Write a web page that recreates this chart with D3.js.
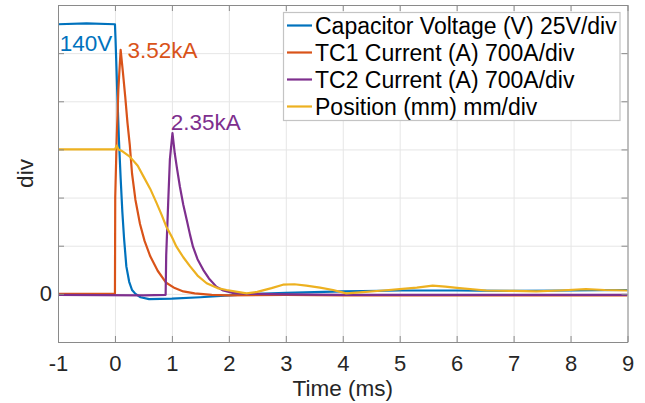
<!DOCTYPE html>
<html><head><meta charset="utf-8">
<script src="https://cdn.jsdelivr.net/npm/d3@7"></script>
<style>
html,body{margin:0;padding:0;background:#fff;}
svg{display:block;font-family:"Liberation Sans",Arial,sans-serif;}
</style></head>
<body><svg id="c" width="645" height="403"></svg>
<script>
// ---- data ----
const xTicks = [-1,0,1,2,3,4,5,6,7,8,9];
const xTickLabels = ["-1","0","1","2","3","4","5","6","7","8","9"];
const yTicks = [-1,0,1,2,3,4,5,6];
const yTickLabels = ["","0","","","","","",""];
const seriesNames = ["Capacitor Voltage (V) 25V/div","TC1 Current (A) 700A/div","TC2 Current (A) 700A/div","Position (mm) mm/div"];
const seriesColors = ["#0072BD","#D95319","#7E2F8E","#EDB120"];

const capT = [-1,-0.5,0,0.01,0.04,0.07,0.1,0.13,0.16,0.2,0.25,0.3,0.36,0.45,0.6,1.0,1.5,2.0,2.5,3.0,4.0,5.0,6.0,7.0,8.0,9.0];
const capV = [5.6,5.62,5.6,5.3,4.2,3.2,2.4,1.7,1.15,0.57,0.25,0.08,0.0,-0.07,-0.11,-0.1,-0.07,-0.03,0.0,0.02,0.05,0.07,0.07,0.06,0.07,0.08];

const tc1T = [-1,0,0.005,0.03,0.06,0.1,0.14,0.18,0.22,0.26,0.3,0.36,0.44,0.52,0.62,0.75,0.9,1.05,1.2,1.4,1.7,2.0,3,4,5,6,7,8,9];
const tc1V = [0,0,2.0,3.2,4.25,5.07,4.6,4.1,3.55,3.1,2.5,1.95,1.45,1.1,0.78,0.48,0.23,0.12,0.05,0.01,-0.02,-0.03,-0.02,-0.03,-0.03,-0.03,-0.03,-0.03,-0.03];

const tc2T = [-1,0.5,0.89,0.9,0.935,0.965,1.01,1.05,1.09,1.14,1.2,1.26,1.32,1.37,1.45,1.55,1.65,1.78,1.9,2.07,2.3,3,4,5,6,7,8,9];
const tc2V = [-0.02,-0.03,-0.02,0.8,1.9,2.8,3.34,2.92,2.6,2.23,1.85,1.54,1.22,0.98,0.72,0.5,0.32,0.15,0.07,0.02,0,-0.01,-0.02,-0.02,-0.02,-0.02,-0.02,-0.02];

const posT = [-1,0,0.03,0.06,0.12,0.26,0.4,0.5,0.62,0.73,0.82,0.9,1.0,1.08,1.2,1.32,1.45,1.61,1.8,1.96,2.15,2.31,2.5,2.75,2.95,3.15,3.36,3.6,3.83,4.06,4.3,4.71,5.0,5.3,5.58,5.8,6.05,6.52,7.0,7.4,7.8,8.27,8.6,9];
const posV = [3.0,3.0,3.08,3.0,2.97,2.85,2.66,2.44,2.18,1.89,1.64,1.4,1.18,0.98,0.76,0.57,0.38,0.22,0.12,0.08,0.04,0.01,0.04,0.12,0.19,0.2,0.17,0.13,0.08,0.01,0.03,0.07,0.1,0.13,0.17,0.15,0.12,0.07,0.06,0.05,0.07,0.1,0.08,0.07];

const annotations = [
  {text:"140V", t:-0.97, v:5.05, color:0},
  {text:"3.52kA", t:0.22, v:4.9, color:1},
  {text:"2.35kA", t:0.98, v:3.4, color:2}
];

// ---- chart ----
const svg = d3.select("#c");
const L=58, R=627.5, T=5, B=342;
const x = d3.scaleLinear().domain([-1,9]).range([L,R]);
const y = d3.scaleLinear().domain([-1,6]).range([B,T]);
const axisColor = "#8a8a8a", gridColor = "#e6e6e6", textColor = "#262626";

// grid
svg.append("g").attr("transform",`translate(0,${B})`)
  .call(d3.axisBottom(x).tickValues(xTicks).tickSize(-(B-T)).tickFormat(""))
  .call(g=>{g.select(".domain").remove(); g.selectAll("line").attr("stroke",gridColor);});
svg.append("g").attr("transform",`translate(${L},0)`)
  .call(d3.axisLeft(y).tickValues(yTicks).tickSize(-(R-L)).tickFormat(""))
  .call(g=>{g.select(".domain").remove(); g.selectAll("line").attr("stroke",gridColor);});

// clip
svg.append("defs").append("clipPath").attr("id","clip")
  .append("rect").attr("x",L).attr("y",T).attr("width",R-L).attr("height",B-T);

const line = d3.line().x(d=>x(d[0])).y(d=>y(d[1]));
const series = [[capT,capV],[tc1T,tc1V],[tc2T,tc2V],[posT,posV]];
const plot = svg.append("g").attr("clip-path","url(#clip)");
series.forEach((s,i)=>{
  const pts = s[0].map((t,j)=>[t,s[1][j]]);
  plot.append("path").attr("d",line(pts)).attr("fill","none")
    .attr("stroke",seriesColors[i]).attr("stroke-width",2.2)
    .attr("stroke-linejoin","round");
});

// axes (inward ticks, box)
const fs = 22;
const styleAxis = g=>{
  g.select(".domain").attr("stroke",axisColor);
  g.selectAll(".tick line").attr("stroke",axisColor);
  g.selectAll("text").attr("fill",textColor).style("font-size",fs+"px")
   .style("font-family","'Liberation Sans',Arial,sans-serif");
};
svg.append("g").attr("transform",`translate(0,${B})`)
  .call(d3.axisBottom(x).tickValues(xTicks).tickSizeInner(-6).tickSizeOuter(0).tickPadding(14).tickFormat((d,i)=>xTickLabels[i]))
  .call(styleAxis)
  .call(g=>g.selectAll("text").attr("dy","0.71em").attr("y",13));
svg.append("g").attr("transform",`translate(0,${T})`)
  .call(d3.axisTop(x).tickValues(xTicks).tickSizeInner(-6).tickSizeOuter(0).tickFormat(""))
  .call(styleAxis);
svg.append("g").attr("transform",`translate(${L},0)`)
  .call(d3.axisLeft(y).tickValues(yTicks).tickSizeInner(-6).tickSizeOuter(0).tickPadding(12).tickFormat((d,i)=>yTickLabels[i]))
  .call(styleAxis)
  .call(g=>g.selectAll("text").attr("x",-6));
svg.append("g").attr("transform",`translate(${R},0)`)
  .call(d3.axisRight(y).tickValues(yTicks).tickSizeInner(-6).tickSizeOuter(0).tickFormat(""))
  .call(styleAxis);

// axis titles
svg.append("text").attr("x",(L+R)/2).attr("y",396).attr("text-anchor","middle")
  .attr("fill",textColor).style("font-size","22.5px").text("Time (ms)");
svg.append("text").attr("transform",`translate(33,${(T+B)/2}) rotate(-90)`)
  .attr("text-anchor","middle").attr("fill",textColor).style("font-size","22.5px").text("div");

// annotations
annotations.forEach(a=>{
  svg.append("text").attr("x",x(a.t)).attr("y",y(a.v)).attr("fill",seriesColors[a.color])
    .style("font-size","22.5px").text(a.text);
});

// legend
const lg = svg.append("g");
lg.append("rect").attr("x",283.5).attr("y",12.5).attr("width",336.5).attr("height",108)
  .attr("fill","#fff").attr("stroke","#c4c4c4").attr("stroke-width",1.2);
seriesNames.forEach((n,i)=>{
  const ly = 25.5 + 27*i;
  lg.append("line").attr("x1",287).attr("x2",312).attr("y1",ly).attr("y2",ly)
    .attr("stroke",seriesColors[i]).attr("stroke-width",2.2);
  lg.append("text").attr("x",315).attr("y",ly+8.5).attr("fill","#000")
    .style("font-size","23px").text(n);
});
</script></body></html>
